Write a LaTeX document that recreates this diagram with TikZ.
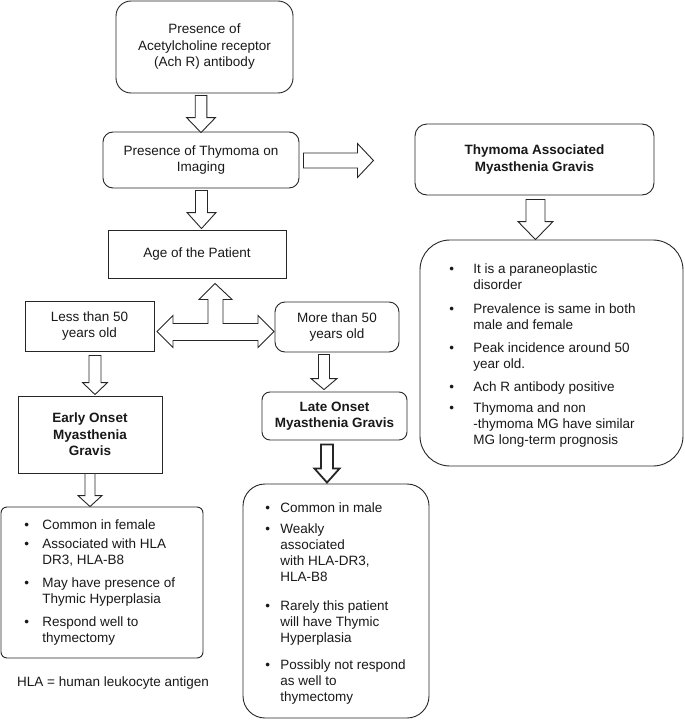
\documentclass[tikz,border=0pt]{standalone}
\usepackage{fontspec}
\setmainfont{Liberation Sans}
\usetikzlibrary{calc}
\newcommand\lstfont{\fontsize{13.5}{16}\selectfont}
\newcommand\bl{\textbullet}
% down block arrow: [opts]{start}{tip}{shaft half}{head half}{head length}
\newcommand\blkdown[6][]{%
  \draw[blk,#1] let \p1=#2, \p2=#3 in
  (\x1-#4pt,\y1) -- (\x1+#4pt,\y1) -- (\x1+#4pt,\y2+#6pt) -- (\x1+#5pt,\y2+#6pt)
  -- (\x1,\y2) -- (\x1-#5pt,\y2+#6pt) -- (\x1-#4pt,\y2+#6pt) -- cycle;}
% right block arrow
\newcommand\blkright[6][]{%
  \draw[blk,#1] let \p1=#2, \p2=#3 in
  (\x1,\y1+#4pt) -- (\x2-#6pt,\y1+#4pt) -- (\x2-#6pt,\y1+#5pt) -- (\x2,\y1)
  -- (\x2-#6pt,\y1-#5pt) -- (\x2-#6pt,\y1-#4pt) -- (\x1,\y1-#4pt) -- cycle;}
\begin{document}
\begin{tikzpicture}[x=1pt,y=-1pt,
  line width=0.9pt,
  every node/.style={text=black!90},
  box/.style={draw=black!85, line width=0.9pt, align=center, inner sep=0pt,
     font=\fontsize{13.5}{16.5}\selectfont},
  hbox/.style={box, font=\fontsize{13.5}{16.5}\selectfont\bfseries},
  blk/.style={draw=black!85, fill=white, line width=0.9pt, line join=miter},
  lst/.style={anchor=base west, inner sep=0pt, font=\lstfont, align=left}]
\useasboundingbox[fill=white] (0,0) rectangle (685,720);

% boxes
\node[box, rounded corners=15pt, minimum width=177pt, minimum height=92pt] (b1) at (204.5,47)
  {Presence of\\Acetylcholine receptor\\(Ach R) antibody};
\node[box, rounded corners=10pt, minimum width=196pt, minimum height=56pt] (b2) at (201,160)
  {Presence of Thymoma on\\Imaging};
\node[box, minimum width=178pt, minimum height=48pt] (age) at (197,254) {Age of the Patient};
\node[box, minimum width=129pt, minimum height=50pt] (less) at (89.5,326) {Less than 50\\years old};
\node[box, rounded corners=10pt, minimum width=124pt, minimum height=50pt] (more) at (337,327)
  {More than 50\\years old};
\node[hbox, minimum width=144pt, minimum height=77pt] (early) at (90,434.5)
  {Early Onset\\Myasthenia\\Gravis};
\node[hbox, rounded corners=8pt, minimum width=145pt, minimum height=48pt] (late) at (334.5,416)
  {Late Onset\\Myasthenia Gravis};
\node[hbox, rounded corners=12pt, minimum width=239pt, minimum height=71pt] (tma) at (534.5,159.5)
  {Thymoma Associated\\Myasthenia Gravis};
\node[box, rounded corners=6pt, minimum width=202pt, minimum height=151pt] (elist) at (102,582.5) {};
\node[box, rounded corners=22pt, minimum width=186pt, minimum height=234pt] (llist) at (336,601) {};
\node[box, rounded corners=30pt, minimum width=263pt, minimum height=226pt] (tlist) at (551.5,353) {};

% list texts
\node[lst] (tltext) at (449,273) {\begin{tabular}[t]{@{}p{24pt}@{}l@{}}
\bl & It is a paraneoplastic\\ & disorder\\[8pt]
\bl & Prevalence is same in both\\ & male and female\\[7pt]
\bl & Peak incidence around 50\\ & year old.\\[7pt]
\bl & Ach R antibody positive\\[5pt]
\bl & Thymoma and non\\ & -thymoma MG have similar\\ & MG long-term prognosis
\end{tabular}};
\node[lst] (eltext) at (24,529.5) {\begin{tabular}[t]{@{}p{18pt}@{}l@{}}
\bl & Common in female\\[3pt]
\bl & Associated with HLA\\ & DR3, HLA-B8\\[7pt]
\bl & May have presence of\\ & Thymic Hyperplasia\\[7pt]
\bl & Respond well to\\ & thymectomy
\end{tabular}};
\node[lst] (lltext) at (265,512.5) {\begin{tabular}[t]{@{}p{15pt}@{}l@{}}
\bl & Common in male\\[5pt]
\bl & Weakly\\ & associated\\ & with HLA-DR3,\\ & HLA-B8\\[13pt]
\bl & Rarely this patient\\ & will have Thymic\\ & Hyperplasia\\[11pt]
\bl & Possibly not respond\\ & as well to\\ & thymectomy
\end{tabular}};
\node[font=\fontsize{13.5}{16}\selectfont, inner sep=0pt] (hla) at (113,683) {HLA = human leukocyte antigen};

% block arrows
\blkdown{($(201,0 |- b1.south)+(0,2)$)}{($(201,0 |- b2.north)+(0,1)$)}{5.8}{14.5}{15}
\blkdown{($(201.5,0 |- b2.south)+(0,2)$)}{($(201.5,0 |- age.north)+(0,-1)$)}{6}{14.5}{16}
\coordinate (rtip) at ($(b2.east |- 0,160.5)+(74,0)$);
\blkright{($(b2.east |- 0,160.5)+(4,0)$)}{(rtip)}{7.5}{17}{16}
\blkdown{($(95,0 |- less.south)+(0,4)$)}{($(95,0 |- early.north)+(0,-1)$)}{6}{12.5}{12}
\blkdown{($(324,0 |- more.south)+(0,2)$)}{($(324,0 |- late.north)+(0,-2)$)}{5.5}{13}{11}
\blkdown{($(90,0 |- early.south)$)}{($(90,0 |- elist.north)$)}{5}{12}{11}
\blkdown[line width=1.8pt]{($(327,0 |- late.south)+(0,4)$)}{($(327,0 |- llist.north)+(0,-1)$)}{6}{12.5}{14}
\blkdown{($(535.5,0 |- tma.south)+(0,4)$)}{($(535.5,0 |- tlist.north)$)}{9.5}{17.5}{18}

% T-shaped double arrow between age, less and more
\coordinate (tU) at ($(215,0 |- age.south)+(0,5)$);
\draw[blk] (tU) -- ++(17,16) -- ++(-9,0) -- ++(0,24) -- ++(35,0) -- ++(0,-8)
  -- ++(16,16) -- ++(-16,16) -- ++(0,-7) -- ++(-85,0) -- ++(0,7)
  -- ++(-16,-16) -- ++(16,-16) -- ++(0,8) -- ++(35,0) -- ++(0,-24) -- ++(-9,0) -- cycle;
\end{tikzpicture}
\end{document}
